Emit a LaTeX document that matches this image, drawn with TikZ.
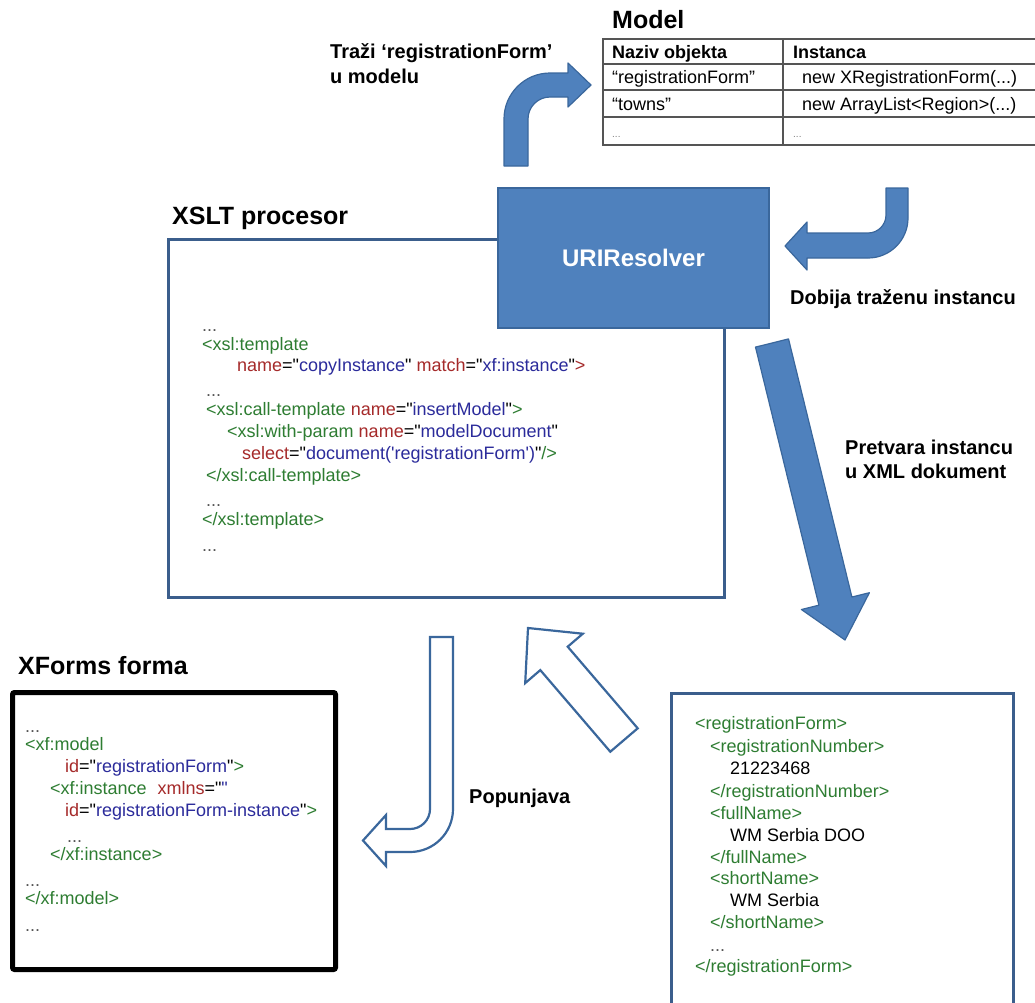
\documentclass[tikz,border=0pt]{standalone}
\usepackage{fontspec}
\newfontfamily\lsans{Liberation Sans}
\usetikzlibrary{calc}

\definecolor{arrowblue}{HTML}{4F81BD}
\definecolor{arrowedge}{HTML}{3A679C}
\definecolor{frameblue}{HTML}{3B5E8C}
\definecolor{xmlgreen}{HTML}{2E7D32}
\definecolor{xmlred}{HTML}{A52A2A}
\definecolor{xmlblue}{HTML}{2B2B9B}
\definecolor{gridgray}{HTML}{555555}

% colour helpers for the XML listings
\newcommand\xgr[1]{\textcolor{xmlgreen}{#1}}
\newcommand\xre[1]{\textcolor{xmlred}{#1}}
\newcommand\xbl[1]{\textcolor{xmlblue}{#1}}
\newcommand\elide{\textcolor{gridgray}{...}}

\tikzset{
  txt/.style={anchor=mid west, inner sep=0pt, yshift=-4.5pt},
  codeline/.style={txt, font=\lsans\fontsize{18}{22}\selectfont},
  heading/.style={txt, font=\lsans\bfseries\fontsize{25}{28}\selectfont},
  caption/.style={txt, font=\lsans\bfseries\fontsize{20}{24}\selectfont},
  cell/.style={txt, font=\lsans\fontsize{18}{22}\selectfont},
  headcell/.style={txt, font=\lsans\bfseries\fontsize{18}{22}\selectfont},
  dotcell/.style={txt, text=gray, font=\lsans\fontsize{10}{12}\selectfont},
  solidarrow/.style={fill=arrowblue, draw=arrowedge, line width=1.2pt, line join=round},
  hollowarrow/.style={fill=white, draw=arrowedge, line width=2.2pt, line join=miter},
  panel/.style={draw=frameblue, line width=3pt, fill=white, anchor=north west, inner sep=0pt},
  gridline/.style={draw=gridgray, line width=1.6pt},
}

\begin{document}
\begin{tikzpicture}[x=1pt, y=-1pt]
\useasboundingbox (0,0) rectangle (1035,1002);

% ---------- model table ----------
\node[heading] (modeltitle) at (612,22) {Model};
\foreach \yy in {39,64,90,117,145}
  \draw[gridline] (602,\yy) -- (1035,\yy);
\draw[gridline] (603,39) -- (603,145);
\draw[gridline] (783,39) -- (783,145);
\node[headcell] (hname) at (612,52) {Naziv objekta};
\node[headcell] (hinst) at (793,52) {Instanca};
\node[cell] (r1name) at (612,77) {“registrationForm”};
\node[cell] (r1inst) at (802,77) {new XRegistrationForm(...)};
\node[cell] (r2name) at (612,104) {“towns”};
\node[cell] (r2inst) at (802,104) {new ArrayList<Region>(...)};
\node[dotcell] (r3name) at (612,131) {...};
\node[dotcell] (r3inst) at (793,131) {...};

% ---------- lookup arrow ----------
\node[caption] (lookup1) at (330,52) {Traži ‘registrationForm’};
\node[caption] (lookup2) at (330,77) {u modelu};
\path[solidarrow] (504,166) -- (504,119) arc[start angle=180, end angle=270, radius=46]
  -- (568,73) -- (568,63) -- (591,85) -- (568,107) -- (568,97) -- (550,97)
  arc[start angle=270, end angle=180, radius=22] -- (528,166) -- cycle;

% ---------- returned instance arrow ----------
\path[solidarrow] (886,188) -- (886,215) arc[start angle=0, end angle=90, radius=18]
  -- (807,233) -- (807,222) -- (785,246) -- (807,270) -- (807,258) -- (868,258)
  arc[start angle=90, end angle=0, radius=40] -- (908,188) -- cycle;
\node[caption] (got) at (790,298) {Dobija traženu instancu};

% ---------- XSLT processor ----------
\node[heading] (xslttitle) at (172,218) {XSLT procesor};
\node[panel, minimum width=556pt, minimum height=358pt] (xslt) at (167,238) {};
\node[draw=arrowedge, line width=2pt, fill=arrowblue, anchor=north west, inner sep=0pt,
      minimum width=271pt, minimum height=140pt, text=white,
      font=\lsans\bfseries\fontsize{24}{28}\selectfont] (uri) at (497,187) {URIResolver};

\node[codeline] (x1) at (202,325) {\elide};
\node[codeline] (x2) at (202,344) {\xgr{<xsl:template}};
\node[codeline] (x3) at (237,365) {\xre{name}="\xbl{copyInstance}" \xre{match}="\xbl{xf:instance}"\xre{>}};
\node[codeline] (x4) at (206,390) {\elide};
\node[codeline] (x5) at (206,409) {\xgr{<xsl:call-template} \xre{name}="\xbl{insertModel}"\xgr{>}};
\node[codeline] (x6) at (227,431) {\xgr{<xsl:with-param} \xre{name}="\xbl{modelDocument}"};
\node[codeline] (x7) at (242,453) {\xre{select}="\xbl{document('registrationForm')}"\xgr{/>}};
\node[codeline] (x8) at (206,475) {\xgr{</xsl:call-template>}};
\node[codeline] (x9) at (206,500) {\elide};
\node[codeline] (x10) at (202,519) {\xgr{</xsl:template>}};
\node[codeline] (x11) at (202,545) {\elide};

% ---------- conversion arrow ----------
\path[solidarrow] (755.5,347.1) -- (788.5,338.9) -- (851.9,597.0) -- (869.4,592.7)
  -- (845,640) -- (801.4,609.5) -- (818.9,605.2) -- cycle;
\node[caption] (conv1) at (845,448) {Pretvara instancu};
\node[caption] (conv2) at (845,472) {u XML dokument};

% ---------- XML document ----------
\node[panel, minimum width=342pt, minimum height=330pt] (xmldoc) at (670,692) {};
\node[codeline] (d1) at (695,723) {\xgr{<registrationForm>}};
\node[codeline] (d2) at (710,746) {\xgr{<registrationNumber>}};
\node[codeline] (d3) at (730,768) {21223468};
\node[codeline] (d4) at (710,791) {\xgr{</registrationNumber>}};
\node[codeline] (d5) at (710,813) {\xgr{<fullName>}};
\node[codeline] (d6) at (730,835) {WM Serbia DOO};
\node[codeline] (d7) at (710,857) {\xgr{</fullName>}};
\node[codeline] (d8) at (710,878) {\xgr{<shortName>}};
\node[codeline] (d9) at (730,900) {WM Serbia};
\node[codeline] (d10) at (710,922) {\xgr{</shortName>}};
\node[codeline] (d11) at (710,945) {\elide};
\node[codeline] (d12) at (695,966) {\xgr{</registrationForm>}};

% ---------- hollow arrows ----------
\path[hollowarrow] (637.7,728.3) -- (567.7,646.7) -- (582.8,633.7) -- (528,628)
  -- (525.2,683.1) -- (540.3,670.1) -- (610.3,751.7) -- cycle;
\path[hollowarrow] (430,637) -- (430,809) arc[start angle=0, end angle=90, radius=20]
  -- (386,829) -- (386,815) -- (363,840.5) -- (386,866) -- (386,852) -- (410,852)
  arc[start angle=90, end angle=0, radius=43] -- (453,637) -- cycle;
\node[caption] (fill) at (469,797) {Popunjava};

% ---------- XForms form ----------
\node[heading] (xftitle) at (18,668) {XForms forma};
\node[draw=black, line width=5pt, rounded corners=2pt, fill=white, anchor=north west,
      inner sep=0pt, minimum width=323pt, minimum height=277pt] (xforms) at (10,690) {};
\node[codeline] (f1) at (25,726) {\elide};
\node[codeline] (f2) at (25,744) {\xgr{<xf:model}};
\node[codeline] (f3) at (65,766) {\xre{id}="\xbl{registrationForm}"\xgr{>}};
\node[codeline] (f4) at (50,788) {\xgr{<xf:instance}\hspace{0.6em}\xre{xmlns}="\xbl{"}};
\node[codeline] (f5) at (65,810) {\xre{id}="\xbl{registrationForm-instance}"\xgr{>}};
\node[codeline] (f6) at (67,836) {\elide};
\node[codeline] (f7) at (50,854) {\xgr{</xf:instance>}};
\node[codeline] (f8) at (25,880) {\elide};
\node[codeline] (f9) at (25,898) {\xgr{</xf:model>}};
\node[codeline] (f10) at (25,925) {\elide};
\end{tikzpicture}
\end{document}
